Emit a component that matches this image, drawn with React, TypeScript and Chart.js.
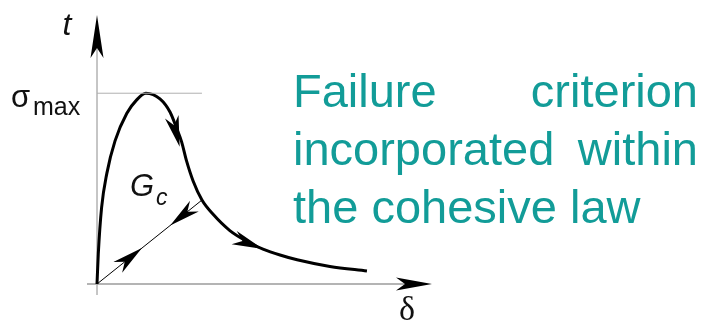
import { useEffect, useRef } from "react";
import { Chart, registerables } from "chart.js";

Chart.register(...registerables);

// Cohesive law: opening δ (arbitrary units) vs traction t (normalised by σmax)
const lawDelta = [0, 0.04, 0.14, 0.3, 0.55, 0.91, 1.21, 1.49, 1.92, 2.23, 2.43, 2.58, 2.73, 2.93, 3.2, 3.54, 4.05, 4.66, 5.06, 5.58, 6.1, 7.1, 8.23];
const lawTraction = [0, 0.16, 0.4, 0.58, 0.75, 0.895, 0.965, 1.0, 0.97, 0.9, 0.815, 0.745, 0.645, 0.54, 0.44, 0.365, 0.28, 0.215, 0.183, 0.152, 0.127, 0.092, 0.068];

// Linear unloading / reloading path back to the origin
const unloadDelta = [0, 3.2];
const unloadTraction = [0, 0.44];

// Peak traction reference line
const sigmaMax = 1;
const sigmaLineDelta = [0, 3.2];

// Direction arrows along the paths: tip point and a point behind it
const arrowTipDelta = [2.52, 5.06, 1.37, 2.23];
const arrowTipTraction = [0.72, 0.183, 0.189, 0.307];
const arrowTailDelta = [2.26, 4.3, 0, 3.2];
const arrowTailTraction = [0.89, 0.235, 0, 0.44];

// Side caption, one entry per line
const captionLines = [["Failure", "criterion"], ["incorporated", "within"], ["the cohesive law"]];

const TEAL = "rgb(18,156,152)";
const INK = "#111";

function arrowHead(ctx: CanvasRenderingContext2D, tx: number, ty: number, ux: number, uy: number, len: number, half: number, inset: number) {
  const nx = -uy;
  const ny = ux;
  ctx.beginPath();
  ctx.moveTo(tx, ty);
  ctx.lineTo(tx - len * ux + half * nx, ty - len * uy + half * ny);
  ctx.lineTo(tx - (len - inset) * ux, ty - (len - inset) * uy);
  ctx.lineTo(tx - len * ux - half * nx, ty - len * uy - half * ny);
  ctx.closePath();
  ctx.fill();
}

const diagramPlugin = {
  id: "cohesiveDiagram",
  beforeDatasetsDraw(chart: any) {
    const { ctx, scales } = chart;
    const ox = scales.x.getPixelForValue(0);
    const oy = scales.y.getPixelForValue(0);
    ctx.save();
    // vertical axis
    ctx.strokeStyle = "#8c8c8c";
    ctx.lineWidth = 1;
    ctx.beginPath();
    ctx.moveTo(ox, oy + 11);
    ctx.lineTo(ox, 30);
    ctx.stroke();
    // horizontal axis
    ctx.strokeStyle = "#b4b4b4";
    ctx.lineWidth = 2;
    ctx.beginPath();
    ctx.moveTo(ox - 10, oy);
    ctx.lineTo(420, oy);
    ctx.stroke();
    ctx.fillStyle = "#000";
    arrowHead(ctx, ox, 15, 0, -1, 43, 6.5, 10);
    arrowHead(ctx, 432, oy, 1, 0, 36, 6.5, 9);
    ctx.restore();
  },
  afterDatasetsDraw(chart: any) {
    const { ctx, scales } = chart;
    ctx.save();
    ctx.fillStyle = "#000";
    for (let i = 0; i < arrowTipDelta.length; i++) {
      const tx = scales.x.getPixelForValue(arrowTipDelta[i]);
      const ty = scales.y.getPixelForValue(arrowTipTraction[i]);
      const bx = scales.x.getPixelForValue(arrowTailDelta[i]);
      const by = scales.y.getPixelForValue(arrowTailTraction[i]);
      const d = Math.hypot(tx - bx, ty - by);
      arrowHead(ctx, tx, ty, (tx - bx) / d, (ty - by) / d, 31, 7, 9);
    }

    ctx.fillStyle = INK;
    ctx.textBaseline = "alphabetic";
    // axis names
    ctx.textAlign = "center";
    ctx.font = "italic 32px 'Liberation Sans', Arial, sans-serif";
    ctx.fillText("t", 67, 35);
    ctx.font = "34px 'Liberation Serif', 'Times New Roman', serif";
    ctx.fillText("δ", 407, 320);
    // σmax
    ctx.textAlign = "left";
    ctx.font = "31px 'Liberation Sans', Arial, sans-serif";
    ctx.fillText("σ", 11, 107);
    ctx.font = "25px 'Liberation Sans', Arial, sans-serif";
    ctx.fillText("max", 33, 115);
    // Gc
    ctx.font = "italic 31px 'Liberation Sans', Arial, sans-serif";
    ctx.fillText("G", 130, 196);
    ctx.font = "italic 23px 'Liberation Sans', Arial, sans-serif";
    ctx.fillText("c", 156, 205);

    // caption, justified between left and right edges
    const left = 293;
    const right = 698;
    const baselines = [107, 165, 223];
    ctx.fillStyle = TEAL;
    ctx.font = "47px 'Liberation Sans', Arial, sans-serif";
    captionLines.forEach((words, i) => {
      ctx.textAlign = "left";
      ctx.fillText(words[0], left, baselines[i]);
      if (words.length === 2) {
        ctx.textAlign = "right";
        ctx.fillText(words[1], right, baselines[i]);
      }
    });
    ctx.restore();
  },
};

export default function App() {
  const canvasRef = useRef<HTMLCanvasElement | null>(null);

  useEffect(() => {
    if (!canvasRef.current) return;
    const chart = new Chart(canvasRef.current, {
      type: "line",
      data: {
        datasets: [
          {
            data: sigmaLineDelta.map((d) => ({ x: d, y: sigmaMax })),
            borderColor: "#b0b0b0",
            borderWidth: 1,
            pointRadius: 0,
            clip: false as any,
          },
          {
            data: unloadDelta.map((d, i) => ({ x: d, y: unloadTraction[i] })),
            borderColor: "#000",
            borderWidth: 1,
            pointRadius: 0,
            clip: false as any,
          },
          {
            data: lawDelta.map((d, i) => ({ x: d, y: lawTraction[i] })),
            borderColor: "#000",
            borderWidth: 3,
            pointRadius: 0,
            cubicInterpolationMode: "monotone",
            clip: false as any,
          },
        ],
      },
      options: {
        responsive: false,
        animation: false,
        events: [],
        layout: { padding: { left: 97, right: 282, top: 15, bottom: 38 } },
        plugins: { legend: { display: false }, tooltip: { enabled: false } },
        scales: {
          x: { type: "linear", min: 0, max: 10, display: false },
          y: { type: "linear", min: 0, max: 1.41, display: false },
        },
      },
      plugins: [diagramPlugin],
    });
    return () => chart.destroy();
  }, []);

  return (
    <div style={{ position: "fixed", left: 0, top: 0, width: 707, height: 322, background: "#fff" }}>
      <canvas ref={canvasRef} width={707} height={322} />
    </div>
  );
}
